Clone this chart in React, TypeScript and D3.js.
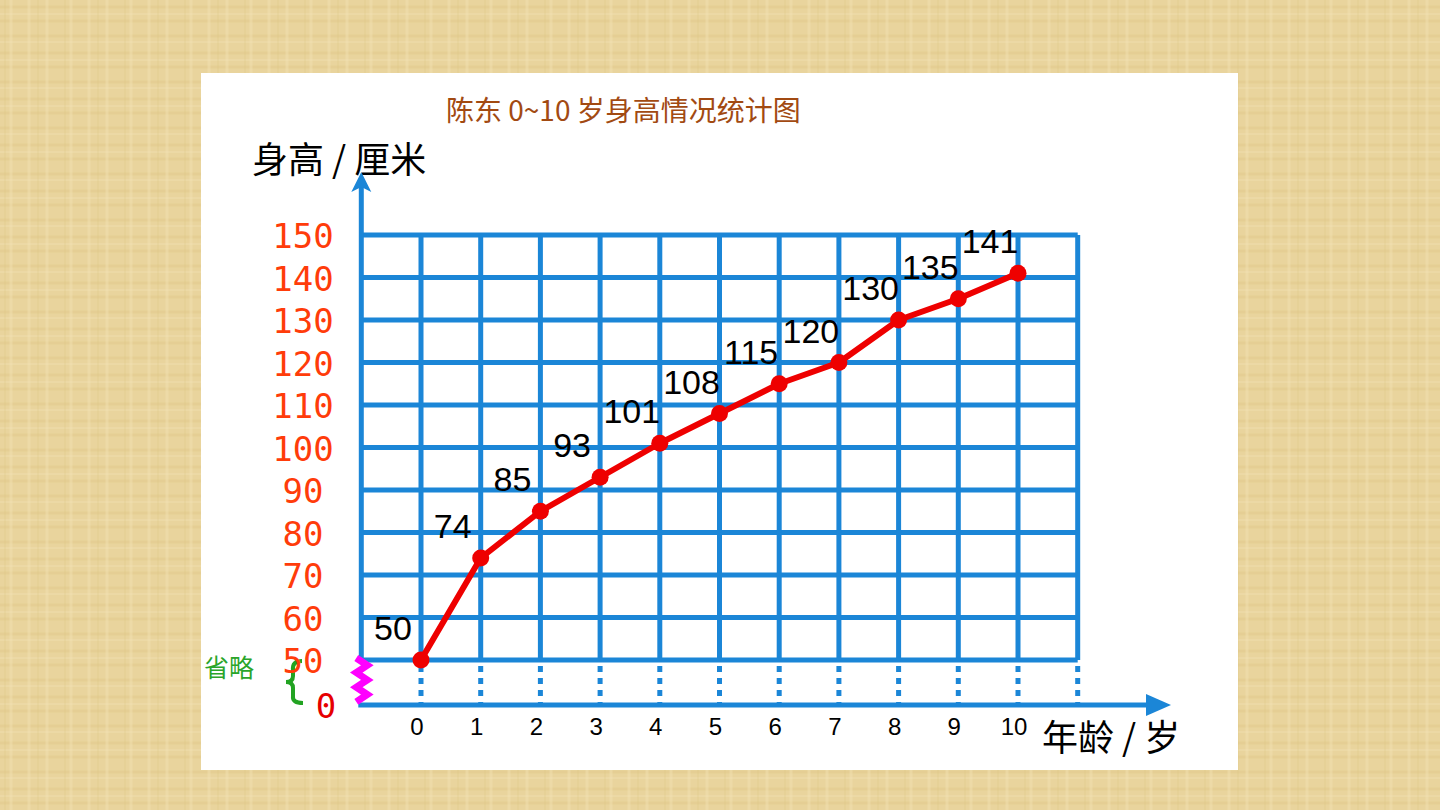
import React from "react";
import { scaleLinear, line } from "d3";

const ages = [0, 1, 2, 3, 4, 5, 6, 7, 8, 9, 10];
const heights = [50, 74, 85, 93, 101, 108, 115, 120, 130, 135, 141];
const yTicks = [50, 60, 70, 80, 90, 100, 110, 120, 130, 140, 150];
const title = "陈东 0~10 岁身高情况统计图";
const yTitle = "身高 / 厘米";
const xTitle = "年龄 / 岁";

function App() {
  const width = 1440;
  const height = 810;
  const blue = "#1b86d7";

  const xScale = scaleLinear().domain([0, 10]).range([421, 1018]);
  const yScale = scaleLinear().domain([50, 150]).range([660, 235]);
  const axisY = 705;
  const axisX = xScale(-1);
  const gridRight = xScale(11);

  const cols = [-1, ...ages, 11];
  const path = line<number>()
    .x((d, i) => xScale(ages[i]))
    .y((d) => yScale(d))(heights);

  // zigzag break on the y axis
  const zig: string[] = [];
  for (let i = 0; i <= 6; i++) {
    const yy = yScale(50) - 2 + i * 7.3;
    zig.push(`${i % 2 === 0 ? axisX - 5 : axisX + 6},${yy}`);
  }

  return (
    <svg
      width={width}
      height={height}
      style={{ position: "absolute", left: 0, top: 0, display: "block" }}
    >
      <defs>
        <pattern id="paper" width="60" height="46" patternUnits="userSpaceOnUse">
          <rect width="60" height="46" fill="#e9d49d" />
          <path d="M0 7H60M0 21H60M0 36H60" stroke="#dcc383" strokeWidth="3" opacity="0.35" />
          <path d="M11 0V46M29 0V46M47 0V46" stroke="#f2e2b4" strokeWidth="3" opacity="0.45" />
          <path d="M0 14H60M0 42H60" stroke="#f4e5ba" strokeWidth="1" opacity="0.5" />
          <path d="M5 0V46M38 0V46" stroke="#d8bf7e" strokeWidth="1" opacity="0.35" />
        </pattern>
      </defs>
      <rect width={width} height={height} fill="url(#paper)" />
      <rect x={201} y={73} width={1037} height={697} fill="#ffffff" />

      <text
        x={446}
        y={121}
        fontFamily="Noto Sans CJK SC"
        fontSize={28}
        fill="#a24a12"
      >
        {title}
      </text>
      <text x={252} y={173} fontFamily="Noto Sans CJK SC" fontSize={36} fill="#000">
        {yTitle}
      </text>
      <text x={1042} y={751} fontFamily="Noto Sans CJK SC" fontSize={36} fill="#000">
        {xTitle}
      </text>

      {/* grid */}
      <g stroke={blue} strokeWidth={5}>
        {yTicks.map((t) => (
          <line key={t} x1={axisX} x2={gridRight} y1={yScale(t)} y2={yScale(t)} />
        ))}
        {cols.map((c) => (
          <line key={c} x1={xScale(c)} x2={xScale(c)} y1={yScale(150)} y2={yScale(50)} />
        ))}
        {cols.slice(1).map((c) => (
          <line
            key={"d" + c}
            x1={xScale(c)}
            x2={xScale(c)}
            y1={yScale(50) + 6}
            y2={axisY}
            strokeDasharray="6 6"
          />
        ))}
        <line x1={axisX} x2={axisX} y1={yScale(150)} y2={186} />
        <line x1={axisX - 3} x2={1150} y1={axisY} y2={axisY} />
      </g>
      <path
        d={`M${axisX},172 L${axisX + 10},192 L${axisX},187 L${axisX - 10},192 Z`}
        fill={blue}
      />
      <path d={`M1171,${axisY} L1146,${axisY - 11} L1146,${axisY + 11} Z`} fill={blue} />

      {/* break marks */}
      <polyline
        points={zig.join(" ")}
        fill="none"
        stroke="#ff00ff"
        strokeWidth={7}
        strokeLinejoin="miter"
      />
      <path
        d="M302,661 Q292,661 293,670 L293,676 Q293,682 286,682 Q293,682 293,688 L293,696 Q292,703 303,703"
        fill="none"
        stroke="#22a322"
        strokeWidth={4}
      />
      <text x={204} y={677} fontFamily="Noto Sans CJK SC" fontSize={25} fill="#2aa52a">
        省略
      </text>

      {/* y tick labels */}
      {yTicks.map((t) => (
        <text
          key={t}
          x={303}
          y={yScale(t) + 13}
          textAnchor="middle"
          fontFamily="DejaVu Sans Mono"
          fontSize={34}
          fill="#ff3c0a"
        >
          {t}
        </text>
      ))}
      <text
        x={326}
        y={axisY + 13}
        textAnchor="middle"
        fontFamily="DejaVu Sans Mono"
        fontSize={34}
        fill="#e60000"
      >
        0
      </text>

      {/* x tick labels */}
      {ages.map((a) => (
        <text
          key={a}
          x={xScale(a) - 4}
          y={735}
          textAnchor="middle"
          fontFamily="Liberation Sans"
          fontSize={24}
          fill="#000"
        >
          {a}
        </text>
      ))}

      {/* line */}
      <path d={path || ""} fill="none" stroke="#ee0000" strokeWidth={6} strokeLinejoin="round" />
      {heights.map((h, i) => (
        <circle key={i} cx={xScale(ages[i])} cy={yScale(h)} r={8.5} fill="#ee0000" />
      ))}
      {heights.map((h, i) => (
        <text
          key={"l" + i}
          x={xScale(ages[i]) - 28}
          y={yScale(h) - 20}
          textAnchor="middle"
          fontFamily="Liberation Sans"
          fontSize={34}
          fill="#000"
        >
          {h}
        </text>
      ))}
    </svg>
  );
}

export default App;
